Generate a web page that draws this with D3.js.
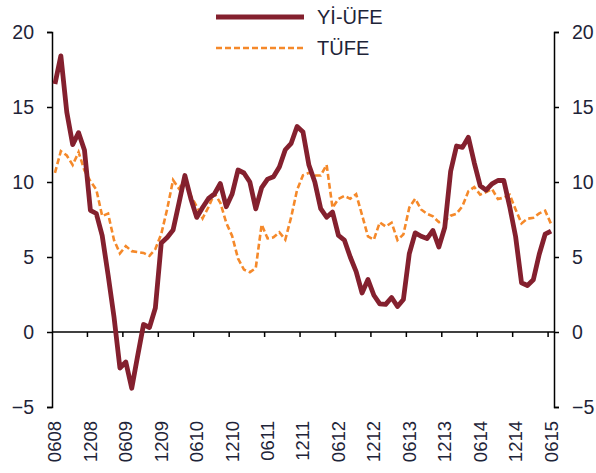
<!DOCTYPE html>
<html>
<head>
<meta charset="utf-8">
<script src="https://cdn.jsdelivr.net/npm/d3@7"></script>
<style>
  body { margin: 0; background: #fff; }
  svg text { font-family: "Liberation Sans", Arial, sans-serif; fill: #1e2438; }
</style>
</head>
<body>
<div id="chart"></div>
<script>
// monthly, 2008-06 .. 2015-06 (annual % change)
const tickLabels = ["0608", "1208", "0609", "1209", "0610", "1210", "0611", "1211",
  "0612", "1212", "0613", "1213", "0614", "1214", "0615"];

const yiUfe = [
  16.53, 18.41, 14.67, 12.49, 13.29, 12.11, 8.11,
  7.90, 6.43, 3.8, 1.0, -2.4, -2.0, -3.75, -1.6, 0.5, 0.3, 1.6, 5.93,
  6.3, 6.8, 8.6, 10.43, 8.9, 7.64, 8.3, 8.9, 9.2, 9.9, 8.35, 9.2,
  10.8, 10.6, 10.0, 8.21, 9.63, 10.19, 10.35, 11.0, 12.15, 12.58, 13.7, 13.33,
  11.13, 10.0, 8.22, 7.65, 8.0, 6.44, 6.13, 5.0, 4.03, 2.6, 3.5, 2.45,
  1.88, 1.84, 2.3, 1.7, 2.17, 5.23, 6.61, 6.38, 6.23, 6.77, 5.67, 6.97,
  10.72, 12.4, 12.31, 12.98, 11.28, 9.75, 9.46, 9.88, 10.1, 10.1, 8.36, 6.36,
  3.28, 3.1, 3.48, 5.18, 6.52, 6.73
];

const tufe = [
  10.61, 12.06, 11.77, 11.13, 11.99, 10.76, 10.06,
  9.50, 7.73, 7.89, 6.13, 5.24, 5.73, 5.39, 5.33, 5.27, 5.08, 5.53, 6.53,
  8.19, 10.13, 9.56, 10.19, 9.10, 8.37, 7.58, 8.33, 9.24, 8.62, 7.29, 6.40,
  4.90, 4.16, 3.99, 4.26, 7.17, 6.24, 6.31, 6.65, 6.15, 7.66, 9.48, 10.45,
  10.61, 10.43, 10.43, 11.14, 8.28, 8.87, 9.07, 8.88, 9.19, 7.80, 6.37, 6.16,
  7.31, 7.03, 7.29, 6.13, 6.51, 8.30, 8.88, 8.17, 7.88, 7.71, 7.32, 7.40,
  7.75, 7.89, 8.39, 9.38, 9.66, 9.16, 9.32, 9.54, 8.86, 8.96, 9.15, 8.17,
  7.24, 7.55, 7.61, 7.91, 8.09, 7.20
];

const yTicks = [-5, 0, 5, 10, 15, 20];

const width = 596, height = 473;
const plotL = 52, plotR = 554, plotT = 32, plotB = 407;

const svg = d3.select("#chart").append("svg")
  .attr("width", width).attr("height", height);

const n = tufe.length;
const x = d3.scaleLinear().domain([-0.5, n - 0.5]).range([plotL, plotR]);
const y = d3.scaleLinear().domain([-5, 20]).range([plotB, plotT]);

// left + right value axes
const axisL = svg.append("g").attr("transform", `translate(${plotL},0)`)
  .call(d3.axisLeft(y).tickValues(yTicks).tickSize(5).tickPadding(13).tickFormat(d3.format("d")));
const axisR = svg.append("g").attr("transform", `translate(${plotR},0)`)
  .call(d3.axisRight(y).tickValues(yTicks).tickSize(5).tickPadding(13).tickFormat(d3.format("d")));
[axisL, axisR].forEach(a => {
  a.select(".domain").attr("stroke", "#000").attr("stroke-width", 1.5);
  a.selectAll(".tick line").attr("stroke", "#000").attr("stroke-width", 1.5);
  a.selectAll("text").style("font-size", "19.5px").attr("fill", "#1e2438");
});

// category axis on the zero line
svg.append("line")
  .attr("x1", plotL).attr("x2", plotR)
  .attr("y1", y(0)).attr("y2", y(0))
  .attr("stroke", "#000").attr("stroke-width", 1.5);

const tickIdx = d3.range(6, n, 6);
svg.selectAll(".xtick").data(tickIdx).join("line")
  .attr("class", "xtick")
  .attr("x1", d => x(d - 0.5)).attr("x2", d => x(d - 0.5))
  .attr("y1", y(0)).attr("y2", y(0) + 5)
  .attr("stroke", "#000").attr("stroke-width", 1.5);

svg.selectAll(".xlabel").data(tickLabels).join("text")
  .attr("class", "xlabel")
  .attr("transform", (d, i) => `translate(${x(i * 6)},${plotB + 14}) rotate(-90)`)
  .attr("text-anchor", "end")
  .attr("dy", "0.35em")
  .style("font-size", "18.5px")
  .text(d => d);

// series
const line = d3.line().x((d, i) => x(i)).y(d => y(d));

svg.append("path").datum(tufe)
  .attr("d", line)
  .attr("fill", "none")
  .attr("stroke", "#f5892a")
  .attr("stroke-width", 2.6)
  .attr("stroke-dasharray", "6,3");

svg.append("path").datum(yiUfe)
  .attr("d", line)
  .attr("fill", "none")
  .attr("stroke", "#84202e")
  .attr("stroke-width", 4.8)
  .attr("stroke-linejoin", "round");

// legend
const legend = [
  { name: "Yİ-ÜFE", color: "#84202e", w: 4.8, dash: null, y: 17 },
  { name: "TÜFE", color: "#f5892a", w: 2.6, dash: "6,3", y: 48 }
];
const lg = svg.selectAll(".lg").data(legend).join("g").attr("class", "lg");
lg.append("line")
  .attr("x1", 216).attr("x2", 304)
  .attr("y1", d => d.y).attr("y2", d => d.y)
  .attr("stroke", d => d.color)
  .attr("stroke-width", d => d.w)
  .attr("stroke-dasharray", d => d.dash);
lg.append("text")
  .attr("x", 317).attr("y", d => d.y)
  .attr("dy", "0.35em")
  .style("font-size", "20px")
  .text(d => d.name);
</script>
</body>
</html>
